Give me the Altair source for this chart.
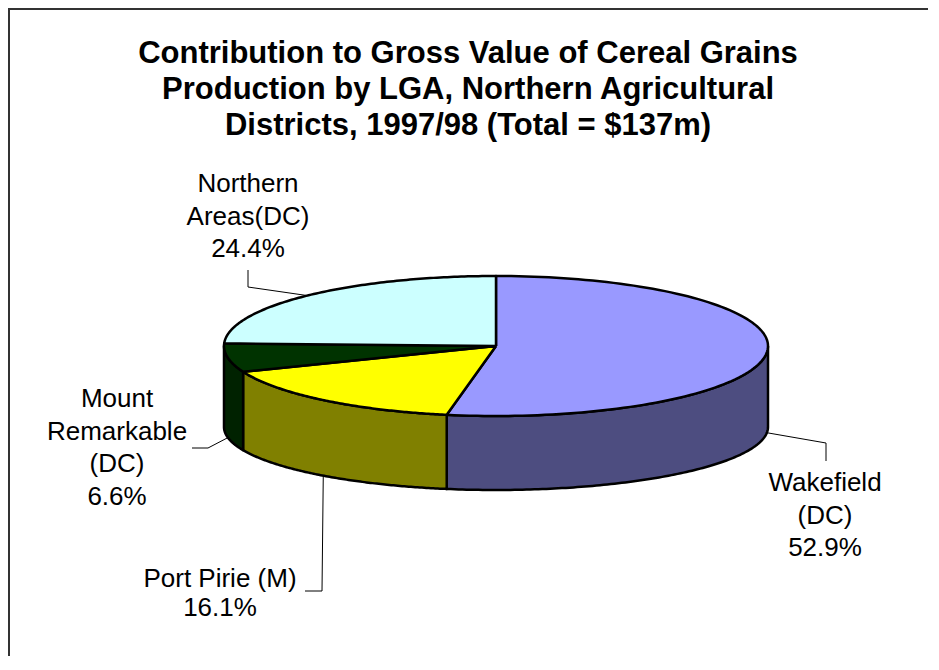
import numpy as np
import pandas as pd
import altair as alt

# ---------------- data ----------------
categories = ["Wakefield (DC)", "Port Pirie (M)", "Mount Remarkable (DC)", "Northern Areas(DC)"]
shares = [52.9, 16.1, 6.6, 24.4]
label_lines = [["Wakefield", "(DC)"], ["Port Pirie (M)"], ["Mount", "Remarkable", "(DC)"], ["Northern", "Areas(DC)"]]
title_lines = [
    "Contribution to Gross Value of Cereal Grains",
    "Production by LGA, Northern Agricultural",
    "Districts, 1997/98 (Total = $137m)",
]

# ---------------- style / layout ----------------
top_colors = ["#9999FF", "#FFFF00", "#003300", "#CCFFFF"]
side_colors = ["#4D4D80", "#808000", "#002200", "#668080"]
CX, CY, RX, RY = 496, 346, 272, 70      # top ellipse
DEPTH, RYB = 81, 63                      # wall depth, bottom ellipse radius
label_x = [825, 220, 117, 248]
label_y0 = [491, 587, 407, 192]
label_gap = [32.5, 29, 32.5, 32.5]
leader_pts = [[(826, 443), (826, 461)], [(322, 591), (305, 591)],
              [(208, 448), (192, 448)], [(248, 287), (248, 270)]]
W, H = 920, 648
FONT = "Liberation Sans"

def top_pt(t):
    r = np.radians(t)
    return CX + RX * np.sin(r), CY - RY * np.cos(r)

def bot_pt(t):
    r = np.radians(t)
    return CX + RX * np.sin(r), CY + DEPTH - RYB * np.cos(r)

bounds = np.concatenate([[0], np.cumsum(shares)]) / 100 * 360

walls, tops, leaders = [], [], []
for i, cat in enumerate(categories):
    a, b = bounds[i], bounds[i + 1]
    # top face
    pts = [(CX, CY)] + [top_pt(t) for t in np.linspace(a, b, 120)] + [(CX, CY)]
    for k, (x, y) in enumerate(pts):
        tops.append(dict(slice=cat, idx=k, x=x, y=y, color=top_colors[i]))
    # visible front wall
    lo, hi = max(a, 90), min(b, 270)
    if lo < hi:
        ts = np.linspace(lo, hi, 120)
        pts = [top_pt(t) for t in ts] + [bot_pt(t) for t in ts[::-1]]
        pts.append(pts[0])
        for k, (x, y) in enumerate(pts):
            walls.append(dict(slice=cat, idx=k, x=x, y=y, color=side_colors[i]))
    # leader line
    mid = (a + b) / 2
    attach = bot_pt(mid) if np.cos(np.radians(mid)) < 0 else top_pt(mid)
    for k, (x, y) in enumerate([attach] + leader_pts[i]):
        leaders.append(dict(slice=cat, idx=k, x=x, y=y))

texts = []
for i, cat in enumerate(categories):
    lines = label_lines[i] + [f"{shares[i]:.1f}%"]
    for j, s in enumerate(lines):
        texts.append(dict(x=label_x[i], y=label_y0[i] + j * label_gap[i], text=s))

titles = [dict(x=468, y=63 + j * 36, text=s) for j, s in enumerate(title_lines)]

xs = alt.Scale(domain=[8, 8 + W], nice=False, zero=False)
ys = alt.Scale(domain=[8, 8 + H], nice=False, zero=False, reverse=True)
X = lambda: alt.X("x:Q", scale=xs, axis=None)
Y = lambda: alt.Y("y:Q", scale=ys, axis=None)

wall_layer = alt.Chart(pd.DataFrame(walls)).mark_line(
    stroke="black", strokeWidth=2.5, strokeJoin="round"
).encode(x=X(), y=Y(), order="idx:Q", detail="slice:N", fill=alt.Fill("color:N", scale=None))

top_layer = alt.Chart(pd.DataFrame(tops)).mark_line(
    stroke="black", strokeWidth=2.5, strokeJoin="round"
).encode(x=X(), y=Y(), order="idx:Q", detail="slice:N", fill=alt.Fill("color:N", scale=None))

leader_layer = alt.Chart(pd.DataFrame(leaders)).mark_line(
    color="black", strokeWidth=1
).encode(x=X(), y=Y(), order="idx:Q", detail="slice:N")

label_layer = alt.Chart(pd.DataFrame(texts)).mark_text(
    font=FONT, fontSize=26, align="center", baseline="alphabetic", color="black"
).encode(x=X(), y=Y(), text="text:N")

title_layer = alt.Chart(pd.DataFrame(titles)).mark_text(
    font=FONT, fontSize=31, fontWeight="bold", align="center", baseline="alphabetic", color="black"
).encode(x=X(), y=Y(), text="text:N")

frame_left = alt.Chart(pd.DataFrame({"a": [0]})).mark_rule(color="#333333", strokeWidth=2).encode(
    x=alt.value(1), y=alt.value(0), y2=alt.value(H))
frame_top = alt.Chart(pd.DataFrame({"a": [0]})).mark_rule(color="#333333", strokeWidth=2).encode(
    x=alt.value(0), x2=alt.value(W), y=alt.value(1))

chart = alt.layer(
    wall_layer, top_layer, leader_layer, label_layer, title_layer, frame_left, frame_top
).properties(width=W, height=H, padding=0, autosize="none").configure_view(stroke=None)

chart.save("out.html", embed_options={"renderer": "svg", "actions": False})
